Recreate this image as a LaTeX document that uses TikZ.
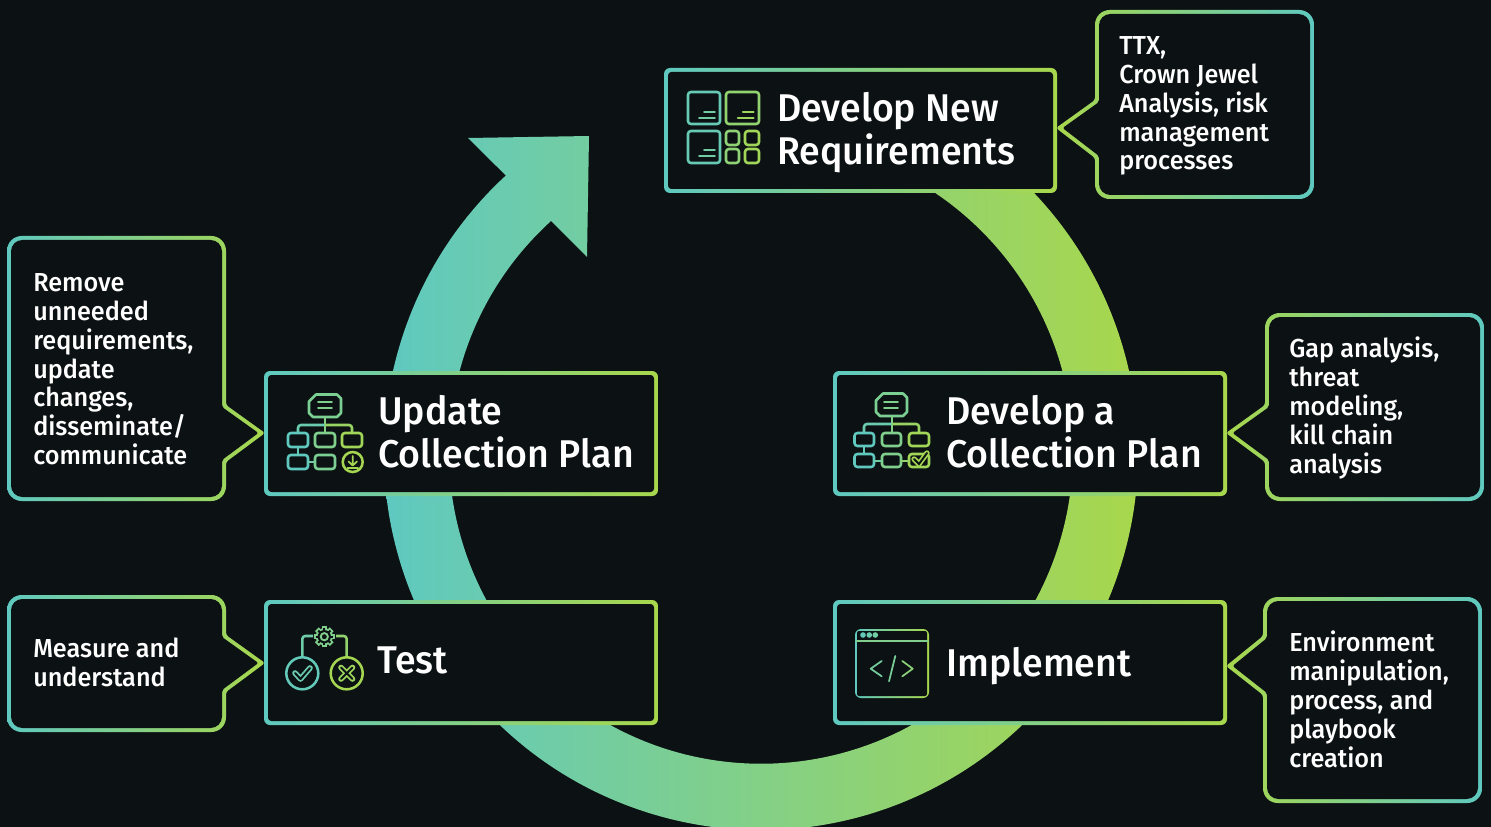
\documentclass[tikz,border=0pt]{standalone}
\usepackage{fontspec}
\usepackage{xcolor}
\setmainfont{Fira Sans Medium}[FakeStretch=0.97]

\definecolor{bgdark}{HTML}{0C1214}
\definecolor{ringteal}{HTML}{5FC9C0}
\definecolor{ringlime}{HTML}{A8D74C}

\tikzset{
  heading/.style={anchor=north west,inner sep=0.75pt,align=left,text=white,font=\fontsize{29}{32.3}\selectfont},
  note/.style={anchor=north west,inner sep=0.75pt,align=left,text=white,font=\fontsize{19.5}{21.7}\selectfont},
  ic/.style={draw=ringlime!#1!ringteal,line width=1.9pt,rounded corners=2.2pt},
  ictag/.style={draw=ringlime!#1!ringteal,line width=1.9pt,line join=round},
  icthin/.style={draw=ringlime!#1!ringteal,line width=1.3pt,line cap=round,line join=round},
}

% gradient frame: x1 y1 x2 y2 left colour right colour
\newcommand{\gradbox}[6]{
  \begin{scope}
    \clip [rounded corners=4.5pt] (#1,#2) rectangle (#3,#4);
    \shade [left color=#5,right color=#6] (#1,#2) rectangle (#3,#4);
  \end{scope}
  \fill [bgdark,rounded corners=2.5pt] ({#1+4},{#2+4}) rectangle ({#3-4},{#4-4});
}
% callout with its pointer on the left: x1 y1 x2 y2 tipx tipy p1 p2
\newcommand{\calloutL}[8]{
  \begin{scope}
    \clip [rounded corners=11pt] (#1,#2) -- (#3,#2) -- (#3,#4) -- (#1,#4) [rounded corners=2pt] -- (#1,#8) -- (#5,#6) -- (#1,#7) [rounded corners=11pt] -- cycle;
    \shade [left color=ringlime,right color=ringteal] (#5,#2) rectangle (#3,#4);
  \end{scope}
  \fill [bgdark,rounded corners=8.5pt] ({#1+4},{#2+4}) -- ({#3-4},{#2+4}) -- ({#3-4},{#4-4}) -- ({#1+4},{#4-4}) [rounded corners=1.5pt] -- ({#1+4},{#8-2}) -- ({#5+6.6},#6) -- ({#1+4},{#7+2}) [rounded corners=8.5pt] -- cycle;
}
% callout with its pointer on the right
\newcommand{\calloutR}[8]{
  \begin{scope}
    \clip [rounded corners=11pt] (#3,#2) -- (#1,#2) -- (#1,#4) -- (#3,#4) [rounded corners=2pt] -- (#3,#8) -- (#5,#6) -- (#3,#7) [rounded corners=11pt] -- cycle;
    \shade [left color=ringteal,right color=ringlime] (#1,#2) rectangle (#5,#4);
  \end{scope}
  \fill [bgdark,rounded corners=8.5pt] ({#3-4},{#2+4}) -- ({#1+4},{#2+4}) -- ({#1+4},{#4-4}) -- ({#3-4},{#4-4}) [rounded corners=1.5pt] -- ({#3-4},{#8-2}) -- ({#5-6.6},#6) -- ({#3-4},{#7+2}) [rounded corners=8.5pt] -- cycle;
}

\begin{document}
\begin{tikzpicture}[x=0.75pt,y=0.75pt,yscale=-1,xscale=1]

\useasboundingbox (0,0) rectangle (1491,827);

% Background
\fill [bgdark] (0,0) rectangle (1491,827);

% Shape: Ring with arrow head
\begin{scope}
  \clip ([shift={(-70:377)}]761,453) arc [start angle=-70,end angle=227.4,radius=377] -- (468,138) -- (589,136) -- (587,257) -- (551,221) arc [start angle=227.7,end angle=-70,radius=312] -- cycle;
  \shade [left color=ringteal,right color=ringlime] (386,0) rectangle (1137,827);
\end{scope}

% Shape: Boxes
\gradbox{664}{68}{1057}{193}{ringteal}{ringlime}
\gradbox{264}{371}{658}{496}{ringteal}{ringlime}
\gradbox{833}{371}{1227}{496}{ringteal}{ringlime}
\gradbox{264}{600}{658}{725}{ringteal}{ringlime}
\gradbox{833}{600}{1227}{725}{ringteal}{ringlime}

% Shape: Callouts
\calloutL{1095}{10}{1314}{199}{1056}{128}{100}{158}
\calloutR{7}{236}{226}{501}{265}{433}{405}{462}
\calloutL{1265}{313}{1484}{501}{1226}{433}{405}{462}
\calloutR{7}{595}{226}{732}{265}{663}{635}{692}
\calloutL{1263}{597}{1482}{803}{1226}{666}{636}{695}

% Icon: Develop New Requirements
\draw [ic=10] (688,92) rectangle (720,124);
\draw [ic=70] (726,92) rectangle (759,124);
\draw [ic=10] (688,131) rectangle (720,163);
\draw [ic=65] (726,131) rectangle (739,145);
\draw [ic=90] (745,131) rectangle (759,145);
\draw [ic=65] (726,149) rectangle (739,163);
\draw [ic=90] (745,149) rectangle (759,163);
\foreach \dx/\dy/\shadepc in {0/0/25, 38.7/0/85, 0/38/25} {
  \draw [icthin=\shadepc] (704+\dx,112+\dy) -- (715+\dx,112+\dy);
  \draw [icthin=\shadepc] (699+\dx,118+\dy) -- (715+\dx,118+\dy);
}

% Icon: Update Collection Plan
\draw [ictag=40] (316,394.5) -- (337,394.5) -- (341,398.5) -- (341,413) -- (337,417) -- (313,417) -- (309,413) -- (309,401.5) -- cycle;
\draw [icthin=45] (318,402) -- (332,402);
\draw [icthin=45] (318,408) -- (332,408);
\draw [ic=50] (325,417) -- (325,433);
\draw [ic=15] (298,433) -- (298,425) -- (325,425);
\draw [ic=80] (325,425) -- (352,425) -- (352,433);
\draw [ic=0] (288,433) rectangle (308,447);
\draw [ic=45] (315,433) rectangle (335,447);
\draw [ic=90] (342,433) rectangle (362,447);
\draw [ic=0] (288,455) rectangle (308,469);
\draw [ic=40] (315,455) rectangle (335,469);
\draw [ic=5] (298,447) -- (298,455);
\draw [ic=25] (308,462) -- (315,462);
\draw [ic=95] (352.7,462) circle (10);
\draw [icthin=95] (352.7,456) -- (352.7,465) (348.5,461.5) -- (352.7,465.5) -- (357,461.5) (347.5,468) -- (358,468);

% Icon: Develop a Collection Plan
\draw [ictag=40] (883,393.5) -- (903,393.5) -- (907,397.5) -- (907,412) -- (903,416) -- (880,416) -- (876,412) -- (876,400.5) -- cycle;
\draw [icthin=45] (884,402) -- (898,402);
\draw [icthin=45] (884,408) -- (898,408);
\draw [ic=50] (892,416) -- (892,433);
\draw [ic=15] (864,433) -- (864,424) -- (892,424);
\draw [ic=80] (892,424) -- (919,424) -- (919,433);
\draw [ic=0] (854.5,433) rectangle (874,446);
\draw [ic=45] (882,433) rectangle (901,446);
\draw [ic=90] (909,433) rectangle (929,446);
\draw [ic=0] (854.5,454) rectangle (874,467);
\draw [ic=45] (882,454) rectangle (901,467);
\draw [ic=90] (909,454) rectangle (929,467);
\draw [ic=5] (864,446) -- (864,454);
\draw [ic=25] (874,461) -- (882,461);
\draw [ic=70] (901,461) -- (909,461);
\draw [ringlime!95!ringteal,line width=4pt,line cap=round] (914,459) -- (919,464) -- (927,453);
\draw [bgdark,line width=1.4pt,line cap=round] (914,459) -- (919,464) -- (927,453);

% Icon: Test
\draw [ic=20] (313,636) -- (302.3,636) -- (302.3,657);
\draw [ic=70] (336,636) -- (346.7,636) -- (346.7,657);
\draw [ic=5] (302.3,673.3) circle (16);
\draw [ic=95] (346.7,673.3) circle (16);
\foreach \a in {0,45,...,315} {
  \draw [ringlime!45!ringteal,line width=4pt] (324.3,636.7) -- ++(\a:10.5);
}
\fill [ringlime!45!ringteal] (324.3,636.7) circle (8.6);
\foreach \a in {0,45,...,315} {
  \draw [bgdark,line width=1.5pt] (324.3,636.7) -- ++(\a:8.6);
}
\fill [bgdark] (324.3,636.7) circle (6.6);
\draw [ringlime!45!ringteal,line width=1.4pt] (324.3,636.7) circle (3.6);
\draw [ringlime!15!ringteal,line width=4.2pt,line cap=round,line join=round] (295,673) -- (300.5,679) -- (310,668);
\draw [bgdark,line width=1.5pt,line cap=round,line join=round] (295,673) -- (300.5,679) -- (310,668);
\draw [ringlime!85!ringteal,line width=4.2pt,line cap=round] (341,667.5) -- (352.5,679) (352.5,667.5) -- (341,679);
\draw [bgdark,line width=1.5pt,line cap=round] (341,667.5) -- (352.5,679) (352.5,667.5) -- (341,679);

% Icon: Implement
\gradbox{855}{629}{929}{698}{ringteal}{ringlime}
\fill [bgdark,rounded corners=1.5pt] (857,631) rectangle (927,696);
\draw [icthin=45] (856,641) -- (928,641);
\fill [ringlime!5!ringteal] (863,635) circle (2.8);
\fill [ringlime!15!ringteal] (869.3,635) circle (2.8);
\fill [ringlime!25!ringteal] (875.3,635) circle (2.8);
\draw [icthin=30] (881.7,661) -- (870.7,668.7) -- (881.7,676.3);
\draw [icthin=35] (895.3,656) -- (889,681.3);
\draw [icthin=60] (902.3,661) -- (912.7,668.7) -- (902.3,676.3);

% Text Node
\draw (776,91) node (lblRequire) [heading] {Develop New\\Requirements};
% Text Node
\draw (377,394) node (lblUpdate) [heading] {Update\\Collection Plan};
% Text Node
\draw (945,394) node (lblDevelop) [heading] {Develop a\\Collection Plan};
% Text Node
\draw (376,646) node (lblTest) [heading] {Test};
% Text Node
\draw (945,646) node (lblImplement) [heading] {Implement};
% Text Node
\draw (1118,35) node (noteTtx) [note] {TTX,\\Crown Jewel\\Analysis, risk\\management\\processes};
% Text Node
\draw (32,272) node (noteRemove) [note] {Remove\\unneeded\\requirements,\\update\\changes,\\disseminate/\\communicate};
% Text Node
\draw (1288,336) node (noteGap) [note] {Gap analysis,\\threat\\modeling,\\kill chain\\analysis};
% Text Node
\draw (32,637) node (noteMeasure) [note] {Measure and\\understand};
% Text Node
\draw (1288,630) node (noteEnv) [note] {Environment\\manipulation,\\process, and\\playbook\\creation};

\end{tikzpicture}
\end{document}
